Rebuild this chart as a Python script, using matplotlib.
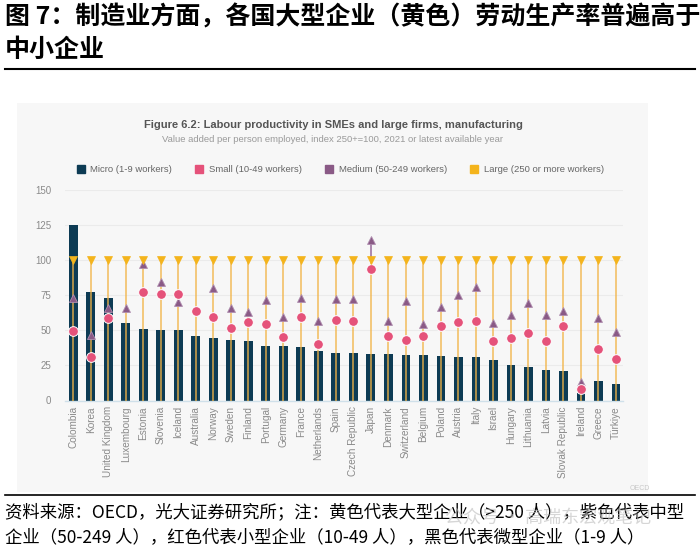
import matplotlib.pyplot as plt
import numpy as np
from matplotlib.patches import Rectangle
from matplotlib.lines import Line2D

plt.rcParams['font.family'] = ['Liberation Sans', 'DejaVu Sans']

countries = ['Colombia', 'Korea', 'United Kingdom', 'Luxembourg', 'Estonia', 'Slovenia',
             'Iceland', 'Australia', 'Norway', 'Sweden', 'Finland', 'Portugal', 'Germany',
             'France', 'Netherlands', 'Spain', 'Czech Republic', 'Japan', 'Denmark',
             'Switzerland', 'Belgium', 'Poland', 'Austria', 'Italy', 'Israel', 'Hungary',
             'Lithuania', 'Latvia', 'Slovak Republic', 'Ireland', 'Greece', 'Türkiye']

micro = [125.0, 77.3, 72.6, 54.9, 50.6, 49.9, 49.9, 45.8, 44.7, 43.0, 42.3, 39.0, 38.5,
         38.3, 35.4, 34.0, 33.5, 33.0, 33.0, 32.3, 32.3, 31.6, 31.1, 30.7, 29.0, 25.0,
         23.6, 21.9, 21.2, 5.1, 13.6, 11.7]
small = [49.4, 30.7, 58.9, np.nan, 76.9, 75.9, 75.9, 63.8, 59.6, 51.8, 55.6, 54.4, 44.9,
         59.6, 40.4, 57.0, 56.5, 93.2, 45.6, 43.2, 46.1, 53.2, 56.0, 56.7, 42.1, 44.2,
         48.2, 42.1, 52.7, 8.2, 36.4, 29.5]
medium = [73.1, 46.5, 65.5, 65.5, 96.8, 84.5, 69.8, np.nan, 79.7, 65.5, 62.7, 71.4, 59.3,
          72.9, 56.5, 72.4, 72.4, 114.1, 56.3, 70.5, 54.2, 66.5, 74.8, 80.7, 55.3, 60.5,
          69.5, 60.5, 63.8, 13.4, 58.4, 48.5]
large = [100] * len(countries)

C_MICRO = '#0d3b54'
C_SMALL = '#e5527a'
C_MED = '#8a5a86'
C_LARGE = '#f4b41c'

fig = plt.figure(figsize=(7, 5.47), dpi=100)
fig.patch.set_facecolor('white')

# gray panel behind the OECD chart
fig.patches.append(Rectangle((17 / 700, 1 - 492 / 547), 631 / 700, 389 / 547,
                             transform=fig.transFigure, facecolor='#f7f7f7',
                             edgecolor='none', zorder=-1))

ax = fig.add_axes([65 / 700, 1 - 400.5 / 547, 558 / 700, 211 / 547])
ax.set_zorder(2)
ax.set_facecolor('none')
x = np.arange(len(countries))

ax.bar(x, micro, width=0.5, color=C_MICRO, zorder=2)
ax.vlines(x, 0, large, color='#f2b447', lw=1.3, alpha=0.75, zorder=3)
med = np.array(medium)
above = med > np.array(large)
ax.vlines(x[above], np.array(large)[above], med[above], color='#a77fa8', lw=1.3, zorder=3)
ax.plot(x, medium, '^', color=C_MED, ms=6.2, mec='#b08fb0', mew=0.6, ls='none', zorder=4,
        clip_on=False)
ax.plot(x, small, 'o', color=C_SMALL, ms=7, mec='white', mew=0.7, ls='none', zorder=5,
        clip_on=False)
ax.plot(x, large, 'v', color=C_LARGE, ms=6.2, mec=C_LARGE, mew=0.5, ls='none', zorder=6,
        clip_on=False)

ax.set_xlim(-0.47, 31.4)
ax.set_ylim(0, 150)
ax.set_yticks([0, 25, 50, 75, 100, 125, 150])
ax.set_xticks(x)
ax.set_xticklabels(countries, rotation=90, fontsize=7.2, color='#8a8a8a')
ax.tick_params(axis='y', labelsize=7, colors='#8a8a8a', length=0, pad=10)
ax.tick_params(axis='x', length=0, pad=4)
ax.grid(axis='y', color='#ebebeb', lw=0.8, zorder=0)
ax.set_axisbelow(True)
for s in ['top', 'right', 'left']:
    ax.spines[s].set_visible(False)
ax.spines['bottom'].set_color('#cfe0ea')
ax.spines['bottom'].set_linewidth(1.0)

# legend
handles = [Line2D([], [], marker='s', ls='none', color=c, ms=6)
           for c in [C_MICRO, C_SMALL, C_MED, C_LARGE]]
labels = ['Micro (1-9 workers)', 'Small (10-49 workers)', 'Medium (50-249 workers)',
          'Large (250 or more workers)']
fig.legend(handles, labels, loc='center', bbox_to_anchor=(340 / 700, 1 - 170 / 547),
           ncol=4, frameon=False, fontsize=6.8, labelcolor='#666666',
           handletextpad=0.5, columnspacing=2.4, handlelength=1.0)

fig.text(333 / 700, 1 - 125 / 547,
         'Figure 6.2: Labour productivity in SMEs and large firms, manufacturing',
         ha='center', va='center', fontsize=8, fontweight='bold', color='#555555')
fig.text(333 / 700, 1 - 140 / 547,
         'Value added per person employed, index 250+=100, 2021 or latest available year',
         ha='center', va='center', fontsize=6.8, color='#9a9a9a')
fig.text(650 / 700, 1 - 489 / 547, 'OECD', ha='right', va='center', fontsize=5,
         color='#c8c8c8')

cjk = ['Noto Sans CJK SC', 'DejaVu Sans']
fig.text(5 / 700, 1 - 17 / 547, '图 7：制造业方面，各国大型企业（黄色）劳动生产率普遍高于',
         ha='left', va='center', fontsize=18, fontweight='bold', family=cjk, color='black')
fig.text(5 / 700, 1 - 50 / 547, '中小企业',
         ha='left', va='center', fontsize=18, fontweight='bold', family=cjk, color='black')
fig.add_artist(Line2D([5 / 700, 695 / 700], [1 - 69 / 547, 1 - 69 / 547], color='black',
                      lw=1.5, transform=fig.transFigure))
fig.add_artist(Line2D([5 / 700, 695 / 700], [1 - 495 / 547, 1 - 495 / 547], color='black',
                      lw=1.2, transform=fig.transFigure))

fig.text(5 / 700, 1 - 512 / 547,
         '资料来源：OECD，光大证券研究所；注：黄色代表大型企业（>250 人），紫色代表中型',
         ha='left', va='center', fontsize=12.5, family=cjk, color='black')
fig.text(5 / 700, 1 - 537 / 547,
         '企业（50-249 人），红色代表小型企业（10-49 人），黑色代表微型企业（1-9 人）',
         ha='left', va='center', fontsize=12.5, family=cjk, color='black')
fig.text(445 / 700, 1 - 518 / 547, '公众号 · 高瑞东宏观笔记', ha='left', va='center',
         fontsize=13, family=cjk, color='#bbbbbb', alpha=0.6)

fig.savefig('out.png', dpi=100)
